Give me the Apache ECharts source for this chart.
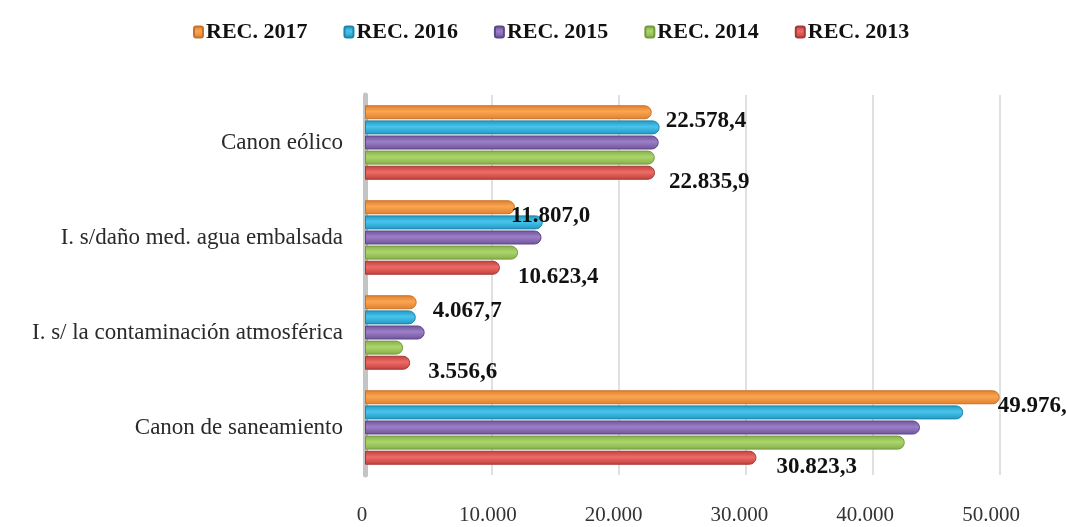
<!DOCTYPE html>
<html>
<head>
<meta charset="utf-8">
<script src="https://cdn.jsdelivr.net/npm/echarts@6/dist/echarts.min.js"></script>
<style>
  html, body { margin: 0; padding: 0; background: #fff; }
  #chart { width: 1066px; height: 527px; }
</style>
</head>
<body>
<div id="chart"></div>
<script>
// categorías (de abajo hacia arriba, como las pinta ECharts)
const categories = ['Canon de saneamiento', 'I. s/ la contaminación atmosférica', 'I. s/daño med. agua embalsada', 'Canon eólico'];
const rec2013 = [30823.3, 3556.6, 10623.4, 22835.9];
const rec2014 = [42500, 3000, 12050, 22820];
const rec2015 = [43700, 4700, 13900, 23130];
const rec2016 = [47100, 4000, 14000, 23200];
const rec2017 = [49976.4, 4067.7, 11807.0, 22578.4];
const xTicks = [0, 10000, 20000, 30000, 40000, 50000];

const serif = '"Liberation Serif", "DejaVu Serif", serif';

// 12345.6 -> "12.345,6"
function fmtEs(v, dec) {
  let s = v.toFixed(dec);
  let parts = s.split('.');
  parts[0] = parts[0].replace(/\B(?=(\d{3})+(?!\d))/g, '.');
  return parts.length > 1 ? parts[0] + ',' + parts[1] : parts[0];
}

function grad(c1, c2) {
  return new echarts.graphic.LinearGradient(0, 0, 0, 1, [
    { offset: 0, color: c1 },
    { offset: 0.45, color: c2 },
    { offset: 1, color: c1 }
  ]);
}

function valueLabel(dist) {
  return {
    show: true,
    position: 'right',
    distance: dist,
    offset: [0, 9],
    fontFamily: serif,
    fontWeight: 'bold',
    fontSize: 23,
    color: '#111',
    formatter: p => fmtEs(p.value, 1)
  };
}

// separación de la etiqueta en cada categoría (como en el original)
const dist2017 = [-2, 16, -4, 14];
const dist2013 = [20, 18, 18, 14];

function bar(name, data, c1, c2, border, dists) {
  return {
    name: name,
    type: 'bar',
    data: dists ? data.map((v, i) => ({ value: v, label: valueLabel(dists[i]) })) : data,
    barWidth: 14,
    barGap: '8%',
    itemStyle: { color: grad(c1, c2), borderColor: border, borderWidth: 1, borderRadius: [0, 7, 7, 0] },
    label: dists ? valueLabel(16) : { show: false },
    z: 3
  };
}

const chart = echarts.init(document.getElementById('chart'));
chart.setOption({
  backgroundColor: '#fff',
  animation: false,
  legend: {
    top: 16,
    left: 188,
    itemWidth: 9,
    itemHeight: 11,
    itemGap: 36,
    data: ['REC. 2017', 'REC. 2016', 'REC. 2015', 'REC. 2014', 'REC. 2013'],
    textStyle: { fontFamily: serif, fontWeight: 'bold', fontSize: 22, color: '#111', padding: [0, 0, 0, -2] }
  },
  grid: [
    { left: 365, right: 66, top: 95, bottom: 52 },
    // borde frontal del "suelo" 3D: sólo lleva las etiquetas del eje
    { left: 362, right: 75, top: 95, bottom: 52 }
  ],
  xAxis: [{
    type: 'value',
    gridIndex: 0,
    min: xTicks[0],
    max: xTicks[xTicks.length - 1],
    interval: 10000,
    axisLine: { show: false },
    axisTick: { show: false },
    splitLine: { lineStyle: { color: '#d6d6d6', width: 1.5 } },
    axisLabel: { show: false }
  }, {
    type: 'value',
    gridIndex: 1,
    min: xTicks[0],
    max: xTicks[xTicks.length - 1],
    interval: 10000,
    axisLine: { show: false },
    axisTick: { show: false },
    splitLine: { show: false },
    axisLabel: {
      margin: 30,
      fontFamily: serif,
      fontSize: 21,
      color: '#333',
      formatter: v => fmtEs(v, 0)
    }
  }],
  yAxis: [{
    type: 'category',
    gridIndex: 0,
    data: categories,
    axisLine: { show: true, lineStyle: { color: '#c4c4c4', width: 5 } },
    axisTick: { show: false },
    axisLabel: { margin: 22, fontFamily: serif, fontSize: 23, color: '#2a2a2a' }
  }, {
    type: 'category',
    gridIndex: 1,
    data: categories,
    show: false
  }],
  series: [
    bar('REC. 2017', rec2017, '#E07F2C', '#FAA552', '#c97128', dist2017),
    bar('REC. 2016', rec2016, '#2198C0', '#48C4EC', '#1d86aa', null),
    bar('REC. 2015', rec2015, '#6F539B', '#9C7FC6', '#5f4788', null),
    bar('REC. 2014', rec2014, '#86AE48', '#ABD66C', '#76993e', null),
    bar('REC. 2013', rec2013, '#C0403D', '#EE6B66', '#A33a37', dist2013)
  ]
});
</script>
</body>
</html>
